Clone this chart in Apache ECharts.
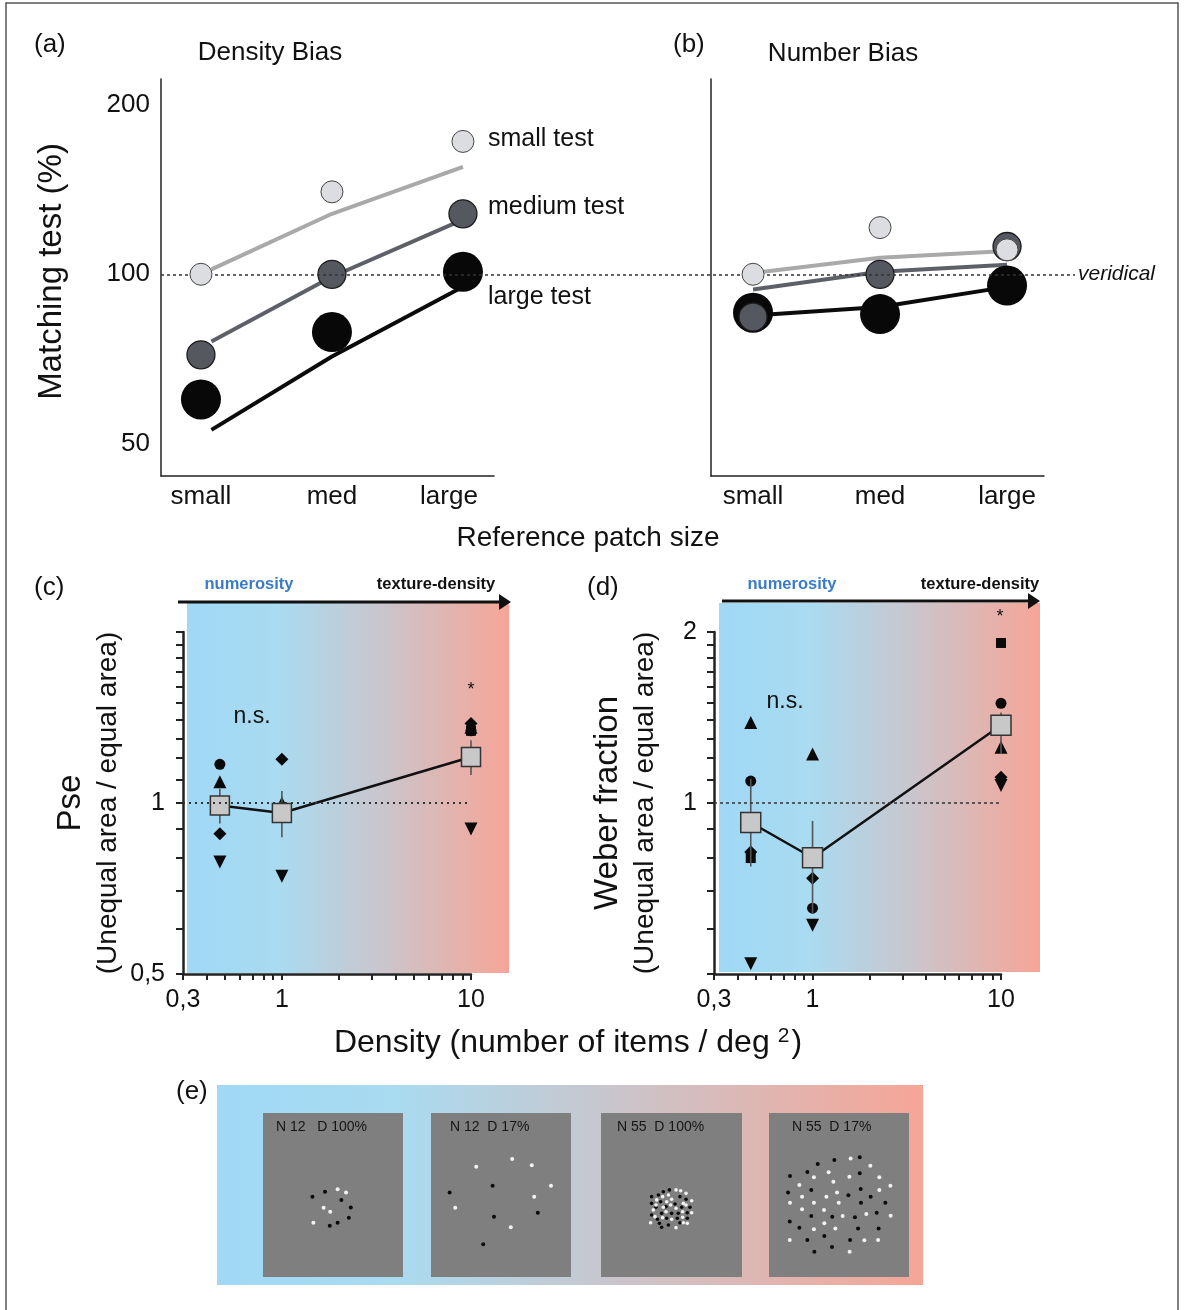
<!DOCTYPE html>
<html><head><meta charset="utf-8">
<script src="https://cdn.jsdelivr.net/npm/echarts@6/dist/echarts.min.js"></script>
<style>html,body{margin:0;padding:0;background:#fff}#c{width:1184px;height:1310px}</style>
</head><body><div id="c"></div>
<script>
const FONT = '"Liberation Sans", Arial, Helvetica, sans-serif';

// ---------- Panels (a) / (b): matching test (%) by reference patch size
const sizeCategories = ['small', 'med', 'large'];
const categoryPos = [0, 1, 2];
const fitXDensity = [0.08, 1, 2];
const fitXNumber = [0, 1, 2];
const matchTicks = [50, 100, 200];
const densSmallTest = [100, 140, 172];
const densMediumTest = [72, 100, 128];
const densLargeTest = [60, 79, 101];
const densSmallFit = [102, 128, 155];
const densMediumFit = [76, 99, 125];
const densLargeFit = [53, 71.5, 95];
const numSmallTest = [100, 121, 110.5];
const numMediumTest = [84, 100, 112];
const numLargeTest = [85.5, 85, 95.5];
const numSmallFit = [100.5, 107, 110];
const numMediumFit = [94, 101, 104];
const numLargeFit = [84.5, 87.5, 95];

// ---------- Panels (c) / (d): ratio vs density
const densityLevels = [0.47, 1, 10];
const densityLabels = [0.3, 1, 10];
const densityTicks = [0.3, 0.4, 0.5, 0.6, 0.7, 0.8, 0.9, 1, 2, 3, 4, 5, 6, 7, 8, 9, 10];
const ratioTicks = [0.5, 0.6, 0.7, 0.8, 0.9, 1, 1.1, 1.2, 1.3, 1.4, 1.5, 1.6, 1.7, 1.8, 1.9, 2];
const pseLabels = [0.5, 1];
const weberLabels = [1, 2];
const pseMean = [0.99, 0.96, 1.205];
const pseErrLow = [0.92, 0.87, 1.12];
const pseErrHigh = [1.06, 1.05, 1.29];
const pseCircle = [1.17, 0.97, 1.34];
const pseTriUp = [1.09, 1.0, 1.36];
const pseSquare = [1.0, 0.95, 1.34];
const pseDiamond = [0.883, 1.194, 1.38];
const pseTriDown = [0.787, 0.743, 0.9];
const weberMean = [0.924, 0.801, 1.371];
const weberErrLow = [0.773, 0.64, 1.22];
const weberErrHigh = [1.103, 0.93, 1.443];
const weberCircle = [1.093, 0.653, 1.498];
const weberTriUp = [1.386, 1.22, 1.253];
const weberSquare = [0.8, 0.8, 1.913];
const weberDiamond = [0.82, 0.737, 1.11];
const weberTriDown = [0.521, 0.609, 1.073];

// ---------- Panel (e): stimulus dots (panel units 0-100, y from top)
const stimLabels = ['N 12   D 100%', 'N 12  D 17%', 'N 55  D 100%', 'N 55  D 17%'];
const stim1Black = [[35.3,51.0],[44.3,48.0],[56,53.1],[62.7,57.6],[61.3,63.9],[53.3,66.9],[47.7,68.8]];
const stim1White = [[53.3,46.5],[59.3,48.4],[43.3,57.8],[48,60.2],[36,66.9]];
const stim2Black = [[13.3,48.4],[44,44.3],[45,63.3],[76.3,60.8],[37.3,80]];
const stim2White = [[32.3,32.7],[58,28],[72,31.8],[85.7,44.3],[73.7,51],[17.3,57.8],[57,69.6]];
const stim3Black = [[35.9,51.0],[40.7,50.0],[44.2,48.0],[48.5,46.9],[35.9,55.1],[42.3,54.1],[52.5,55.5],[56.0,51.0],[60.3,52.6],[39.0,57.5],[46.1,57.1],[57.2,57.5],[63.1,57.5],[43.0,61.2],[50.1,61.2],[54.8,61.2],[61.2,60.8],[35.9,62.2],[40.0,64.8],[46.6,64.2],[54.1,64.2],[61.2,64.2],[41.4,67.3],[47.8,68.3],[56.0,66.9],[43.0,69.7]];
const stim3White = [[43.7,51.0],[47.8,50.0],[53.2,46.9],[56.5,47.4],[60.3,49.0],[39.5,53.0],[46.6,54.1],[50.1,52.6],[58.4,55.1],[64.3,53.5],[39.0,56.1],[49.4,56.1],[44.2,57.5],[53.2,58.1],[60.3,56.1],[37.1,59.1],[46.1,60.2],[57.9,60.2],[64.3,60.8],[38.3,63.2],[43.7,63.8],[50.1,64.8],[57.9,63.6],[35.2,66.9],[53.2,69.9],[58.4,66.9],[61.2,67.3]];
const stim4Black = [[34.8,31.1],[46.7,28.7],[64.8,27.0],[15.0,38.4],[27.4,36.0],[64.8,36.8],[13.6,48.4],[30.2,46.9],[65.5,46.3],[56.7,50.2],[72.6,51.0],[83.1,54.7],[65.7,54.7],[76.9,60.8],[30.2,62.8],[45.2,63.2],[61.4,63.6],[14.8,66.1],[21.7,69.9],[39.5,75.0],[63.6,70.5],[78.3,70.5],[27.4,77.4],[57.9,77.4],[32.4,84.6],[45.0,81.7]];
const stim4White = [[58.3,27.8],[72.4,32.1],[42.6,36.2],[32.1,39.2],[57.4,38.8],[78.8,39.2],[46.0,41.9],[21.7,43.9],[86.7,44.3],[48.6,48.4],[78.8,47.0],[23.6,51.0],[41.0,51.0],[15.0,54.7],[32.1,54.7],[49.8,54.7],[23.6,58.7],[39.3,59.1],[52.6,62.8],[69.5,61.6],[86.9,62.6],[39.5,67.3],[47.4,70.5],[32.1,70.9],[14.8,77.4],[68.1,77.6],[77.9,77.4],[57.6,84.6]];

// ---------- helpers
const pairs = (xs, ys) => xs.map((x, i) => [x, ys[i]]);
const commaFmt = v => String(+v.toFixed(2)).replace('.', ',');
const txt = (x, y, text, size, extra) => ({
  type: 'text', x, y, z: 100,
  style: Object.assign({ text, fontSize: size, fontFamily: FONT, fill: '#111', align: 'left', verticalAlign: 'middle' }, extra || {})
});
const grad = (stops) => new echarts.graphic.LinearGradient(0, 0, 1, 0, stops.map(s => ({ offset: s[0], color: s[1] })));
const bgStops = [[0, '#a0d8f5'], [0.28, '#a9dbf1'], [0.6, '#c9c6cd'], [1, '#f6a597']];

const gridRects = [
  { left: 161, top: 79, width: 914, height: 397 },   // 0 veridical line
  { left: 161, top: 79, width: 333, height: 397 },   // 1 (a)
  { left: 711, top: 79, width: 333, height: 397 },   // 2 (b)
  { left: 183, top: 632, width: 288, height: 342 },  // 3 (c)
  { left: 714, top: 632, width: 287, height: 342 },  // 4 (d)
  { left: 263, top: 1113, width: 140, height: 164 }, // 5-8 (e)
  { left: 431, top: 1113, width: 140, height: 164 },
  { left: 601, top: 1113, width: 141, height: 164 },
  { left: 769, top: 1113, width: 140, height: 164 }
];
const grids = gridRects.map((g, i) => Object.assign({}, g, i >= 5 ? { show: true, backgroundColor: '#7f7f7f', borderWidth: 0 } : {}));

const axLine = (w) => ({ show: true, onZero: false, lineStyle: { color: '#222', width: w } });
const hiddenVal = (idx, extra) => Object.assign({ type: 'value', gridIndex: idx, show: false, min: 0, max: 100 }, extra || {});

const sizeLabel = (withPad) => ({
  customValues: categoryPos, fontSize: 26, fontFamily: FONT, color: '#111', margin: 8,
  formatter: v => { const n = sizeCategories[Math.round(v)]; return (withPad && Math.round(v) === 2) ? '{l|' + n + '}' : n; },
  rich: { l: { fontSize: 26, fontFamily: FONT, color: '#111', padding: [0, 28, 0, 0] } }
});

const xAxes = [
  hiddenVal(0, { min: 0, max: 1 }),
  { type: 'value', gridIndex: 1, min: -0.305, max: 2.237, axisLine: axLine(1.5), axisTick: { show: false }, splitLine: { show: false }, axisLabel: sizeLabel(true) },
  { type: 'value', gridIndex: 2, min: -0.331, max: 2.291, axisLine: axLine(1.5), axisTick: { show: false }, splitLine: { show: false }, axisLabel: sizeLabel(false) },
  ...[3, 4].map(gi => ({
    type: 'log', logBase: 10, gridIndex: gi, min: 0.3, max: 10,
    axisLine: axLine(2.5), splitLine: { show: false }, minorTick: { show: false },
    axisTick: { show: true, customValues: densityTicks, length: 6, lineStyle: { color: '#222', width: 2 } },
    axisLabel: { customValues: densityLabels, formatter: commaFmt, fontSize: 25, fontFamily: FONT, color: '#111', margin: 14 }
  })),
  hiddenVal(5), hiddenVal(6), hiddenVal(7), hiddenVal(8)
];

const ratioName = (first) => '{a|' + first + '}\n{b|(Unequal area / equal area)}';
const ratioRich = { a: { fontSize: 33, lineHeight: 40, fontFamily: FONT, color: '#111' }, b: { fontSize: 28, lineHeight: 34, fontFamily: FONT, color: '#111' } };

const yAxes = [
  { type: 'log', logBase: 2, gridIndex: 0, min: 43.9, max: 221.9, show: false },
  { type: 'log', logBase: 2, gridIndex: 1, min: 43.9, max: 221.9, axisLine: axLine(1.5), axisTick: { show: false }, splitLine: { show: false }, minorTick: { show: false },
    axisLabel: { customValues: matchTicks, fontSize: 26, fontFamily: FONT, color: '#111', margin: 11 },
    name: 'Matching test (%)', nameLocation: 'middle', nameGap: 91, nameTextStyle: { fontSize: 33, lineHeight: 36, fontFamily: FONT, color: '#111', padding: [0, 0, 0, 12] } },
  { type: 'log', logBase: 2, gridIndex: 2, min: 43.9, max: 221.9, axisLine: axLine(1.5), axisTick: { show: false }, splitLine: { show: false }, axisLabel: { show: false } },
  { type: 'log', logBase: 2, gridIndex: 3, min: 0.5, max: 2, axisLine: axLine(2.5), splitLine: { show: false }, minorTick: { show: false },
    axisTick: { show: true, customValues: ratioTicks, length: 7, lineStyle: { color: '#222', width: 2 } },
    axisLabel: { customValues: pseLabels, formatter: commaFmt, fontSize: 25, fontFamily: FONT, color: '#111', margin: 18 },
    name: ratioName('Pse'), nameLocation: 'middle', nameGap: 58, nameTextStyle: { rich: ratioRich } },
  { type: 'log', logBase: 2, gridIndex: 4, min: 0.5, max: 2, axisLine: axLine(2.5), splitLine: { show: false }, minorTick: { show: false },
    axisTick: { show: true, customValues: ratioTicks, length: 7, lineStyle: { color: '#222', width: 2 } },
    axisLabel: { customValues: weberLabels, formatter: commaFmt, fontSize: 25, fontFamily: FONT, color: '#111', margin: 17 },
    name: ratioName('Weber fraction'), nameLocation: 'middle', nameGap: 52, nameTextStyle: { rich: ratioRich } },
  hiddenVal(5, { inverse: true }), hiddenVal(6, { inverse: true }), hiddenVal(7, { inverse: true }), hiddenVal(8, { inverse: true })
];

const series = [];
// veridical reference line across (a) and (b)
series.push({
  type: 'line', xAxisIndex: 0, yAxisIndex: 0, data: [[0, 100]], symbol: 'none', lineStyle: { opacity: 0 }, z: 1, silent: true,
  markLine: { silent: true, symbol: ['none', 'none'], data: [{ yAxis: 100 }],
    lineStyle: { color: '#333', width: 1.5, type: [3, 3] },
    label: { show: true, position: 'end', formatter: 'veridical', fontStyle: 'italic', fontSize: 21, fontFamily: FONT, color: '#111', distance: 3 } }
});

const testStyles = [
  { fill: '#dcdde0', border: '#444', bw: 1, size: 22, line: '#a9a9a9' },
  { fill: '#55585e', border: '#1c1c1c', bw: 1.3, size: 28, line: '#5d6066' },
  { fill: '#080808', border: '#080808', bw: 0, size: 40, line: '#0b0b0b' }
];
function sizePanel(xi, fitX, fits, pts) {
  fits.forEach((f, k) => series.push({ type: 'line', xAxisIndex: xi, yAxisIndex: xi, data: pairs(fitX, f), symbol: 'none', z: 2,
    lineStyle: { color: testStyles[k].line, width: 4 } }));
  [2, 1, 0].forEach(k => series.push({ type: 'scatter', xAxisIndex: xi, yAxisIndex: xi, data: pairs(categoryPos, pts[k]), z: 5 - k,
    symbol: 'circle', symbolSize: testStyles[k].size,
    itemStyle: { color: testStyles[k].fill, borderColor: testStyles[k].border, borderWidth: testStyles[k].bw, opacity: 1 } }));
}
sizePanel(1, fitXDensity, [densSmallFit, densMediumFit, densLargeFit], [densSmallTest, densMediumTest, densLargeTest]);
sizePanel(2, fitXNumber, [numSmallFit, numMediumFit, numLargeFit], [numSmallTest, numMediumTest, numLargeTest]);

function ratioPanel(xi, mean, lo, hi, subj, dash, sq) {
  series.push({ type: 'custom', xAxisIndex: xi, yAxisIndex: xi, z: 3,
    data: densityLevels.map((x, i) => [x, lo[i], hi[i]]), encode: { x: 0, y: [1, 2] },
    renderItem: (params, api) => {
      const p1 = api.coord([api.value(0), api.value(1)]);
      const p2 = api.coord([api.value(0), api.value(2)]);
      return { type: 'line', shape: { x1: p1[0], y1: p1[1], x2: p2[0], y2: p2[1] }, style: { stroke: '#555', lineWidth: 1.6 } };
    } });
  // drawing order: square first so other shapes sit on top of it
  const shapes = [
    { d: subj[2], symbol: 'rect', size: 10, rot: 0 },
    { d: subj[0], symbol: 'circle', size: 11, rot: 0 },
    { d: subj[1], symbol: 'triangle', size: 13, rot: 0 },
    { d: subj[3], symbol: 'diamond', size: 13, rot: 0 },
    { d: subj[4], symbol: 'triangle', size: 13, rot: 180 }
  ];
  shapes.forEach(s => series.push({ type: 'scatter', xAxisIndex: xi, yAxisIndex: xi, z: 2, data: pairs(densityLevels, s.d),
    symbol: s.symbol, symbolSize: s.size, symbolRotate: s.rot, itemStyle: { color: '#0a0a0a', opacity: 1 } }));
  series.push({ type: 'line', xAxisIndex: xi, yAxisIndex: xi, z: 4, data: pairs(densityLevels, mean),
    symbol: 'rect', symbolSize: sq, showAllSymbol: true,
    lineStyle: { color: '#111', width: 2.5 },
    itemStyle: { color: '#c8c8c8', borderColor: '#333', borderWidth: 1.5 },
    markLine: { silent: true, symbol: ['none', 'none'], data: [{ yAxis: 1 }],
      lineStyle: { color: '#333', width: dash[0], type: dash[1] }, label: { show: false } } });
}
ratioPanel(3, pseMean, pseErrLow, pseErrHigh, [pseCircle, pseTriUp, pseSquare, pseDiamond, pseTriDown], [2, [2, 4]], 19);
ratioPanel(4, weberMean, weberErrLow, weberErrHigh, [weberCircle, weberTriUp, weberSquare, weberDiamond, weberTriDown], [1.5, [3, 3]], 20);

[[stim1Black, stim1White, 4], [stim2Black, stim2White, 4], [stim3Black, stim3White, 3.6], [stim4Black, stim4White, 4]].forEach((s, k) => {
  series.push({ type: 'scatter', xAxisIndex: 5 + k, yAxisIndex: 5 + k, data: s[0], symbolSize: s[2], itemStyle: { color: '#0b0b0b', opacity: 1 } });
  series.push({ type: 'scatter', xAxisIndex: 5 + k, yAxisIndex: 5 + k, data: s[1], symbolSize: s[2], itemStyle: { color: '#f2f2f2', opacity: 1 } });
});

const arrow = (x1, x2, y) => [
  { type: 'line', z: 50, shape: { x1, y1: y, x2: x2 - 8, y2: y }, style: { stroke: '#111', lineWidth: 3 } },
  { type: 'polygon', z: 50, shape: { points: [[x2 - 12, y - 8], [x2, y], [x2 - 12, y + 8]] }, style: { fill: '#111' } }
];
const boldSmall = { fontWeight: 'bold', align: 'center' };

const graphics = [
  { type: 'rect', z: -5, shape: { x: 6, y: 3, width: 1172, height: 1320 }, style: { fill: 'none', stroke: '#555', lineWidth: 1.5 } },
  { type: 'rect', z: -2, shape: { x: 187, y: 603, width: 322, height: 370 }, style: { fill: grad(bgStops) } },
  { type: 'rect', z: -2, shape: { x: 719, y: 603, width: 321, height: 369 }, style: { fill: grad(bgStops) } },
  { type: 'rect', z: -2, shape: { x: 217, y: 1085, width: 706, height: 200 }, style: { fill: grad([[0, '#a0d8f5'], [0.25, '#a9dbf1'], [0.55, '#c8c6cd'], [1, '#f6a596']]) } },
  ...arrow(178, 511, 602),
  ...arrow(722, 1040, 601),
  txt(34, 45, '(a)', 26),
  txt(270, 53, 'Density Bias', 26, { align: 'center' }),
  txt(673, 45, '(b)', 26),
  txt(843, 54, 'Number Bias', 26, { align: 'center' }),
  txt(488, 139, 'small test', 25),
  txt(488, 207, 'medium test', 25),
  txt(488, 297, 'large test', 25),
  txt(588, 538, 'Reference patch size', 28, { align: 'center' }),
  txt(34, 588, '(c)', 26),
  txt(587, 588, '(d)', 26),
  txt(249, 584, 'numerosity', 16.5, Object.assign({ fill: '#3a7cc8' }, boldSmall)),
  txt(436, 584, 'texture-density', 16.5, boldSmall),
  txt(792, 584, 'numerosity', 16.5, Object.assign({ fill: '#3a7cc8' }, boldSmall)),
  txt(980, 584, 'texture-density', 16.5, boldSmall),
  txt(252, 717, 'n.s.', 23, { align: 'center' }),
  txt(785, 702, 'n.s.', 23, { align: 'center' }),
  txt(471, 690, '*', 18, { align: 'center' }),
  txt(1000, 617, '*', 18, { align: 'center' }),
  { type: 'text', z: 100, x: 568, y: 1043, style: {
      text: '{a|Density (number of items / deg}{b|2}{a|)}', align: 'center', verticalAlign: 'middle',
      rich: { a: { fontSize: 32, fontFamily: FONT, fill: '#111', lineHeight: 38 },
              b: { fontSize: 21, fontFamily: FONT, fill: '#111', lineHeight: 38, verticalAlign: 'top', padding: [2, 2, 0, 8] } } } },
  txt(176, 1092, '(e)', 26),
  ...stimLabels.map((t, k) => txt([276, 450, 617, 792][k], 1127, t, 14, { fill: '#151515' }))
];

const chart = echarts.init(document.getElementById('c'), null, { renderer: 'canvas' });
chart.setOption({
  animation: false,
  backgroundColor: '#ffffff',
  textStyle: { fontFamily: FONT },
  grid: grids,
  xAxis: xAxes,
  yAxis: yAxes,
  series,
  graphic: { elements: graphics }
});
</script></body></html>
